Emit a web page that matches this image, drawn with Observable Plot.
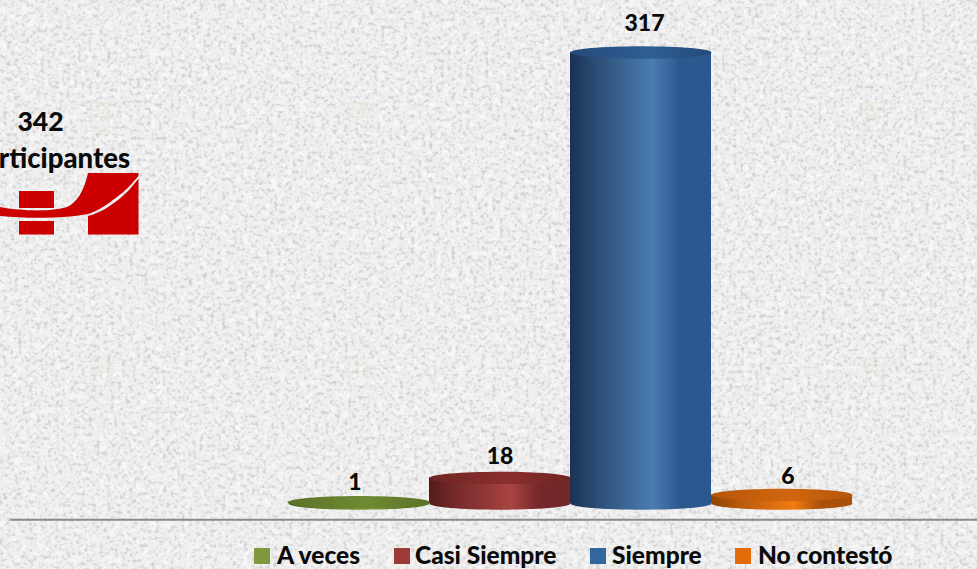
<!DOCTYPE html>
<html><head><meta charset="utf-8">
<script src="https://cdn.jsdelivr.net/npm/d3@7"></script>
<script src="https://cdn.jsdelivr.net/npm/@observablehq/plot@0.6"></script>
<style>
html,body{margin:0;padding:0;width:977px;height:569px;overflow:hidden;background:#e2e2e2}
body{position:relative;font-family:Lato,"Open Sans",sans-serif;font-weight:900;color:#0a0a0a}
#tex,#logo{position:absolute;left:0;top:0}
#chart{position:absolute;left:0;top:0}
#chart svg{background:transparent;display:block}
.note{position:absolute;text-align:center;white-space:nowrap;transform:translateX(-50%);line-height:32px}
#legend{position:absolute;top:540px;left:0;height:28px;font-size:24.5px;line-height:29px;white-space:nowrap}
#legend span{position:absolute;top:0}
#legend i{position:absolute;top:8px;width:16px;height:16px}
</style></head><body>
<svg id="tex" width="977" height="569">
<defs>
<filter id="stone" x="0" y="0" width="100%" height="100%">
<feTurbulence type="fractalNoise" baseFrequency="0.27" numOctaves="3" seed="11"/>
<feColorMatrix values="0 0 0 0 0.5  0 0 0 0 0.5  0 0 0 0 0.5  3.6 0 0 0 -1.75"/>
<feGaussianBlur stdDeviation="0.7"/>
</filter>
<filter id="stone2" x="0" y="0" width="100%" height="100%">
<feTurbulence type="fractalNoise" baseFrequency="0.14" numOctaves="3" seed="3"/>
<feColorMatrix values="0 0 0 0 1  0 0 0 0 1  0 0 0 0 1  3.2 0 0 0 -1.45"/>
<feGaussianBlur stdDeviation="0.6"/>
</filter>
<pattern id="wm" width="258.5" height="255" patternUnits="userSpaceOnUse" x="-176" y="-160">
<g fill="none" stroke="#e8d8c6" stroke-width="2" opacity=".3">
<path d="M0 8H34M4 15H30M4 22H30M8 8V36M26 8V36M2 36H32"/>
</g>
</pattern>
</defs>
<rect width="977" height="569" fill="#efefef"/>
<rect width="977" height="569" filter="url(#stone)" opacity=".6"/>
<rect width="977" height="569" filter="url(#stone2)" opacity=".55"/>
<rect width="977" height="569" fill="url(#wm)"/>
</svg>
<div id="chart"></div>
<svg id="logo" width="140" height="240">
<g fill="#cc0000">
<rect x="19" y="191" width="35" height="17"/>
<rect x="19" y="221" width="35" height="13.5"/>
<path d="M88 173H138.500V176C130 186 124 192 117 197C108 204 98 211 88 214C70 218 30 219 0 216V207C20 211 52 212 67 207C76 203 84 192 88 173Z"/>
<path d="M88 216C100 213 110 206 118 200C126 194 132 187 138.500 178.500V234.500H88Z"/>
</g>
</svg>
<div class="note" style="left:40.5px;top:105px;font-size:26.5px">342</div>
<div class="note" style="left:49px;top:142px;font-size:27.5px">Participantes</div>
<div id="legend"></div>
<script>
const categories = ["A veces", "Casi Siempre", "Siempre", "No contestó"];
const counts = [1, 18, 317, 6];
const swatches = ["#7f9a3d", "#9c3a38", "#33669c", "#e36c0a"];
const sides = [
  ["#4d6323", "#7e9c3c", "#5d7a2b"],
  ["#551b1a", "#a84442", "#74282a"],
  ["#1a3153", "#4a7cb0", "#2c5890"],
  ["#8f4305", "#f27a12", "#a95009"]
];
const caps = [
  ["#5c7228", "#6f8a32"],
  ["#702523", "#8a2f2d"],
  ["#254a78", "#2f5e94"],
  ["#b6560a", "#d2660f"]
];

const rows = categories.map((c, i) => ({c, v: counts[i], i}));
const grad = i => `url(#g${i})`;
const capGrad = i => `url(#c${i})`;
const ratio = 6.2 / 70.5;
const ellipse = {draw(ctx, size) {
  const rx = Math.sqrt(size / Math.PI), ry = rx * ratio, k = 0.5523;
  ctx.moveTo(-rx, 0);
  ctx.bezierCurveTo(-rx, -k * ry, -k * rx, -ry, 0, -ry);
  ctx.bezierCurveTo(k * rx, -ry, rx, -k * ry, rx, 0);
  ctx.bezierCurveTo(rx, k * ry, k * rx, ry, 0, ry);
  ctx.bezierCurveTo(-k * rx, ry, -rx, k * ry, -rx, 0);
  ctx.closePath();
}};
const labelNudge = [[-4, -19], [0, -21], [3.5, -29], [6, -18]];

const plot = Plot.plot({
  width: 977, height: 535,
  marginLeft: 0, marginRight: 0, marginTop: 0, marginBottom: 0,
  x: {domain: categories, range: [288, 852], padding: 0, axis: null},
  y: {domain: [0, 317], range: [503, 52], axis: null},
  style: {background: "transparent"},
  marks: [
    Plot.ruleY([-11.4], {stroke: "#8a8a8a", strokeWidth: 2, insetLeft: 10}),
    Plot.dot(rows, {x: "c", y: 0, r: 70.5, symbol: ellipse, fill: {value: d => grad(d.i), scale: null}}),
    Plot.barY(rows, {x: "c", y: "v", fill: {value: d => grad(d.i), scale: null}}),
    Plot.dot(rows, {x: "c", y: "v", r: 70.5, symbol: ellipse, fill: {value: d => capGrad(d.i), scale: null}}),
    ...rows.map(r => Plot.text([r], {x: "c", y: "v", text: d => String(d.v),
      dx: labelNudge[r.i][0], dy: labelNudge[r.i][1],
      fontSize: 23, fontWeight: 900, fontFamily: "Lato", fill: "#0a0a0a"}))
  ]
});
const ns = "http://www.w3.org/2000/svg";
const defs = document.createElementNS(ns, "defs");
function addGradient(id, stops) {
  const g = document.createElementNS(ns, "linearGradient");
  g.id = id;
  stops.forEach(([o, col]) => {
    const st = document.createElementNS(ns, "stop");
    st.setAttribute("offset", o); st.setAttribute("stop-color", col);
    g.appendChild(st);
  });
  defs.appendChild(g);
}
sides.forEach((s, i) => {
  const mid = d3.interpolateRgb(s[0], s[1]);
  addGradient("g" + i, [[0, s[0]], [0.2, mid(0.4)], [0.58, s[1]], [0.78, s[2]], [1, s[2]]]);
  addGradient("c" + i, [[0, caps[i][0]], [0.55, caps[i][1]], [1, caps[i][0]]]);
});
plot.insertBefore(defs, plot.firstChild);
document.getElementById("chart").appendChild(plot);

const legendAt = [[254, 277], [394, 415], [590, 612], [735, 758]];
const lg = document.getElementById("legend");
categories.forEach((c, i) => {
  const sw = document.createElement("i");
  sw.style.left = legendAt[i][0] + "px"; sw.style.background = swatches[i];
  const t = document.createElement("span");
  t.style.left = legendAt[i][1] + "px"; t.textContent = c;
  lg.append(sw, t);
});
</script>
</body></html>
